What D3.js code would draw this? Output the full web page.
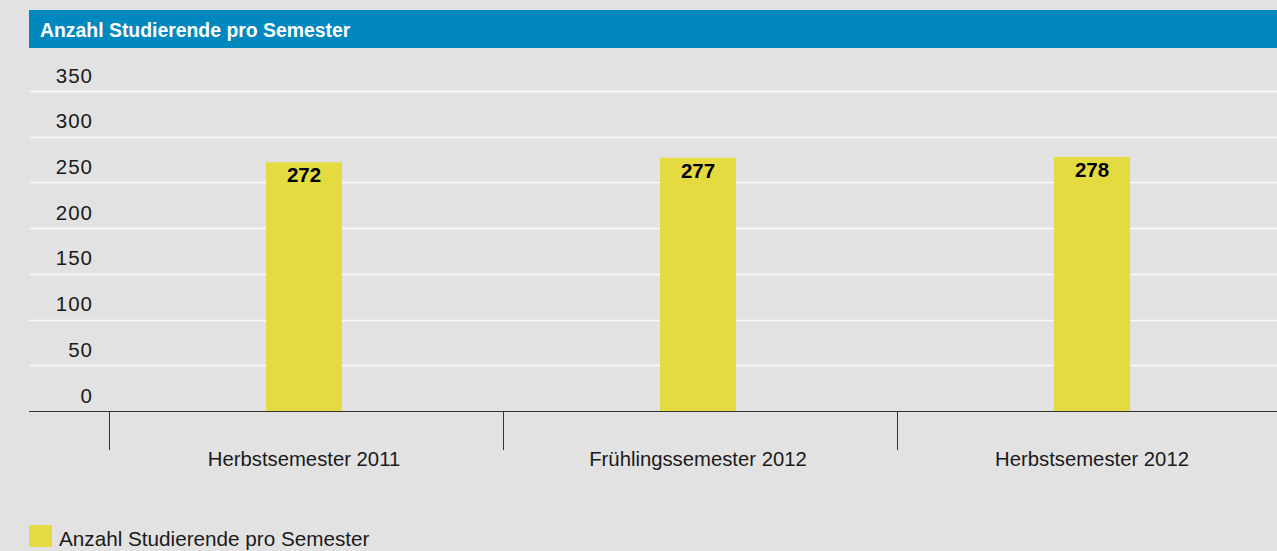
<!DOCTYPE html>
<html>
<head>
<meta charset="utf-8">
<script src="https://cdn.jsdelivr.net/npm/d3@7"></script>
<style>
  body { margin: 0; background: #e2e2e2; }
  svg { display: block; font-family: "Liberation Sans", Arial, sans-serif; }
</style>
</head>
<body>
<div id="chart"></div>
<script>
var width = 1277,
    height = 551;

var title = "Anzahl Studierende pro Semester";
var seriesName = "Anzahl Studierende pro Semester";
var semesters = ["Herbstsemester 2011", "Frühlingssemester 2012", "Herbstsemester 2012"];
var students = [272, 277, 278];
var yTicks = [0, 50, 100, 150, 200, 250, 300, 350];

var barColor = "#e4db41",
    headColor = "#0088bf";

var svg = d3.select("#chart")
    .append("svg")
    .attr("width", width)
    .attr("height", height);

svg.append("rect")
    .attr("width", width)
    .attr("height", height)
    .attr("fill", "#e2e2e2");

// title bar
svg.append("rect")
    .attr("x", 29)
    .attr("y", 10)
    .attr("width", width - 29)
    .attr("height", 38)
    .attr("fill", headColor);

svg.append("text")
    .attr("x", 40)
    .attr("y", 37)
    .attr("fill", "#fff")
    .attr("font-weight", "bold")
    .attr("font-size", 19.4)
    .text(title);

var y = d3.scaleLinear()
    .domain([0, 350])
    .range([411, 91]);

var x = d3.scaleBand()
    .domain(semesters)
    .range([109, 109 + 394 * 3])
    .padding(0);

var barW = 76;

// gridlines
svg.append("g")
    .selectAll("line")
    .data(yTicks.filter(function(d) { return d > 0; }))
    .enter()
    .append("line")
    .attr("x1", 29)
    .attr("x2", width)
    .attr("y1", function(d) { return Math.round(y(d)) + 0.5; })
    .attr("y2", function(d) { return Math.round(y(d)) + 0.5; })
    .attr("stroke", "#fafafa")
    .attr("stroke-width", 1.5);

// y labels, sitting above their line
svg.append("g")
    .selectAll("text")
    .data(yTicks)
    .enter()
    .append("text")
    .attr("x", 93)
    .attr("y", function(d) { return y(d) - 8.5; })
    .attr("text-anchor", "end")
    .attr("font-size", 20.5)
    .attr("letter-spacing", 1)
    .attr("fill", "#1a1a1a")
    .text(function(d) { return d; });

// bars
svg.append("g")
    .selectAll("rect")
    .data(students)
    .enter()
    .append("rect")
    .attr("x", function(d, i) { return x(semesters[i]) + x.bandwidth() / 2 - barW / 2 - 2; })
    .attr("y", function(d) { return y(d); })
    .attr("width", barW)
    .attr("height", function(d) { return y(0) - y(d); })
    .attr("fill", barColor);

svg.append("g")
    .selectAll("text")
    .data(students)
    .enter()
    .append("text")
    .attr("x", function(d, i) { return x(semesters[i]) + x.bandwidth() / 2 - 2; })
    .attr("y", function(d) { return y(d) + 20; })
    .attr("text-anchor", "middle")
    .attr("font-weight", "bold")
    .attr("font-size", 20.5)
    .attr("fill", "#000")
    .text(function(d) { return d; });

// x axis
svg.append("line")
    .attr("x1", 29)
    .attr("x2", width)
    .attr("y1", 411.5)
    .attr("y2", 411.5)
    .attr("stroke", "#333")
    .attr("stroke-width", 1);

svg.append("g")
    .selectAll("line")
    .data(semesters)
    .enter()
    .append("line")
    .attr("x1", function(d) { return x(d) + 0.5; })
    .attr("x2", function(d) { return x(d) + 0.5; })
    .attr("y1", 411)
    .attr("y2", 450)
    .attr("stroke", "#333");

svg.append("g")
    .selectAll("text")
    .data(semesters)
    .enter()
    .append("text")
    .attr("x", function(d) { return x(d) + x.bandwidth() / 2 - 2; })
    .attr("y", 466)
    .attr("text-anchor", "middle")
    .attr("font-size", 20.3)
    .attr("fill", "#1a1a1a")
    .text(function(d) { return d; });

// legend
svg.append("rect")
    .attr("x", 29)
    .attr("y", 525)
    .attr("width", 23)
    .attr("height", 22)
    .attr("fill", barColor);

svg.append("text")
    .attr("x", 59)
    .attr("y", 546)
    .attr("font-size", 20.7)
    .attr("fill", "#1a1a1a")
    .text(seriesName);
</script>
</body>
</html>
